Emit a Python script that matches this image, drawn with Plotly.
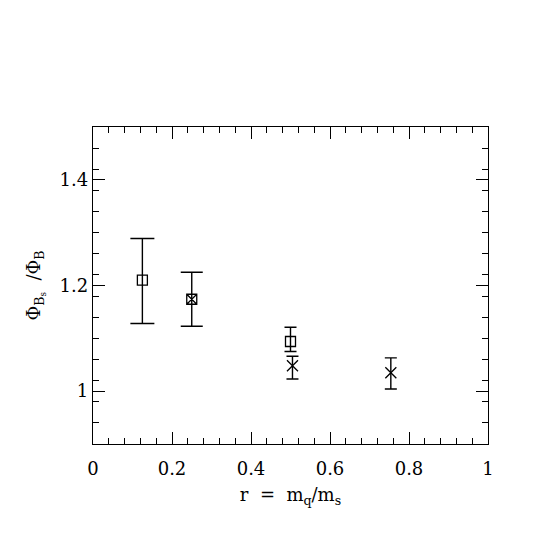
import plotly.graph_objects as go

# data
sq_x = [0.125, 0.5]
sq_y = [1.21, 1.094]
sq_hi = [1.289, 1.121]
sq_lo = [1.128, 1.075]
sq_cap = [12, 6]

sqx_x = [0.25]
sqx_y = [1.174]
sqx_hi = [1.225]
sqx_lo = [1.123]
sqx_cap = [11]

cr_x = [0.505, 0.754]
cr_y = [1.048, 1.035]
cr_hi = [1.066, 1.063]
cr_lo = [1.023, 1.004]
cr_cap = [6, 6]

x_ticks = [0, 0.2, 0.4, 0.6, 0.8, 1]
x_labels = ["0", "0.2", "0.4", "0.6", "0.8", "1"]
y_ticks = [1.0, 1.2, 1.4]
y_labels = ["1", "1.2", "1.4"]

FONT = "DejaVu Serif"
fig = go.Figure()


def add_points(xs, ys, his, los, caps, symbol, size):
    for x, y, h, l, c in zip(xs, ys, his, los, caps):
        fig.add_trace(go.Scatter(
            x=[x], y=[y], mode="markers",
            marker=dict(symbol=symbol, size=size, color="black",
                        line=dict(color="black", width=1.3)),
            error_y=dict(type="data", symmetric=False, array=[h - y],
                         arrayminus=[y - l], color="black", thickness=1.4,
                         width=c),
            showlegend=False,
        ))


add_points(sq_x, sq_y, sq_hi, sq_lo, sq_cap, "square-open", 10)
add_points(sqx_x, sqx_y, sqx_hi, sqx_lo, sqx_cap, "square-x-open", 10)
add_points(cr_x, cr_y, cr_hi, cr_lo, cr_cap, "x-thin-open", 11)

axis_common = dict(
    showline=True, linecolor="black", linewidth=1.3, mirror="ticks",
    ticks="inside", ticklen=12, tickwidth=1.2, tickcolor="black",
    showgrid=False, zeroline=False,
    tickfont=dict(family=FONT, size=18, color="black"),
)

fig.update_xaxes(
    range=[0, 1], tickvals=x_ticks, ticktext=x_labels,
    ticklabelstandoff=8,
    minor=dict(ticks="inside", dtick=0.04, tick0=0, ticklen=6, tickwidth=1.2,
               tickcolor="black", showgrid=False),
    title=dict(text="r  =  m<sub>q</sub>/m<sub>s</sub>",
               font=dict(family=FONT, size=18, color="black"), standoff=10),
    **axis_common,
)
fig.update_yaxes(
    range=[0.9, 1.5], tickvals=y_ticks, ticktext=y_labels,
    minor=dict(ticks="inside", dtick=0.04, tick0=0.9, ticklen=6, tickwidth=1.2,
               tickcolor="black", showgrid=False),
    title=dict(text="Φ<sub>B<sub>s</sub></sub>  /Φ<sub>B</sub>",
               font=dict(family=FONT, size=18, color="black"), standoff=14),
    **axis_common,
)

fig.update_layout(
    width=545, height=545,
    margin=dict(l=85, r=65, t=119, b=109),
    paper_bgcolor="white", plot_bgcolor="white",
)

fig.write_html("out.html")
